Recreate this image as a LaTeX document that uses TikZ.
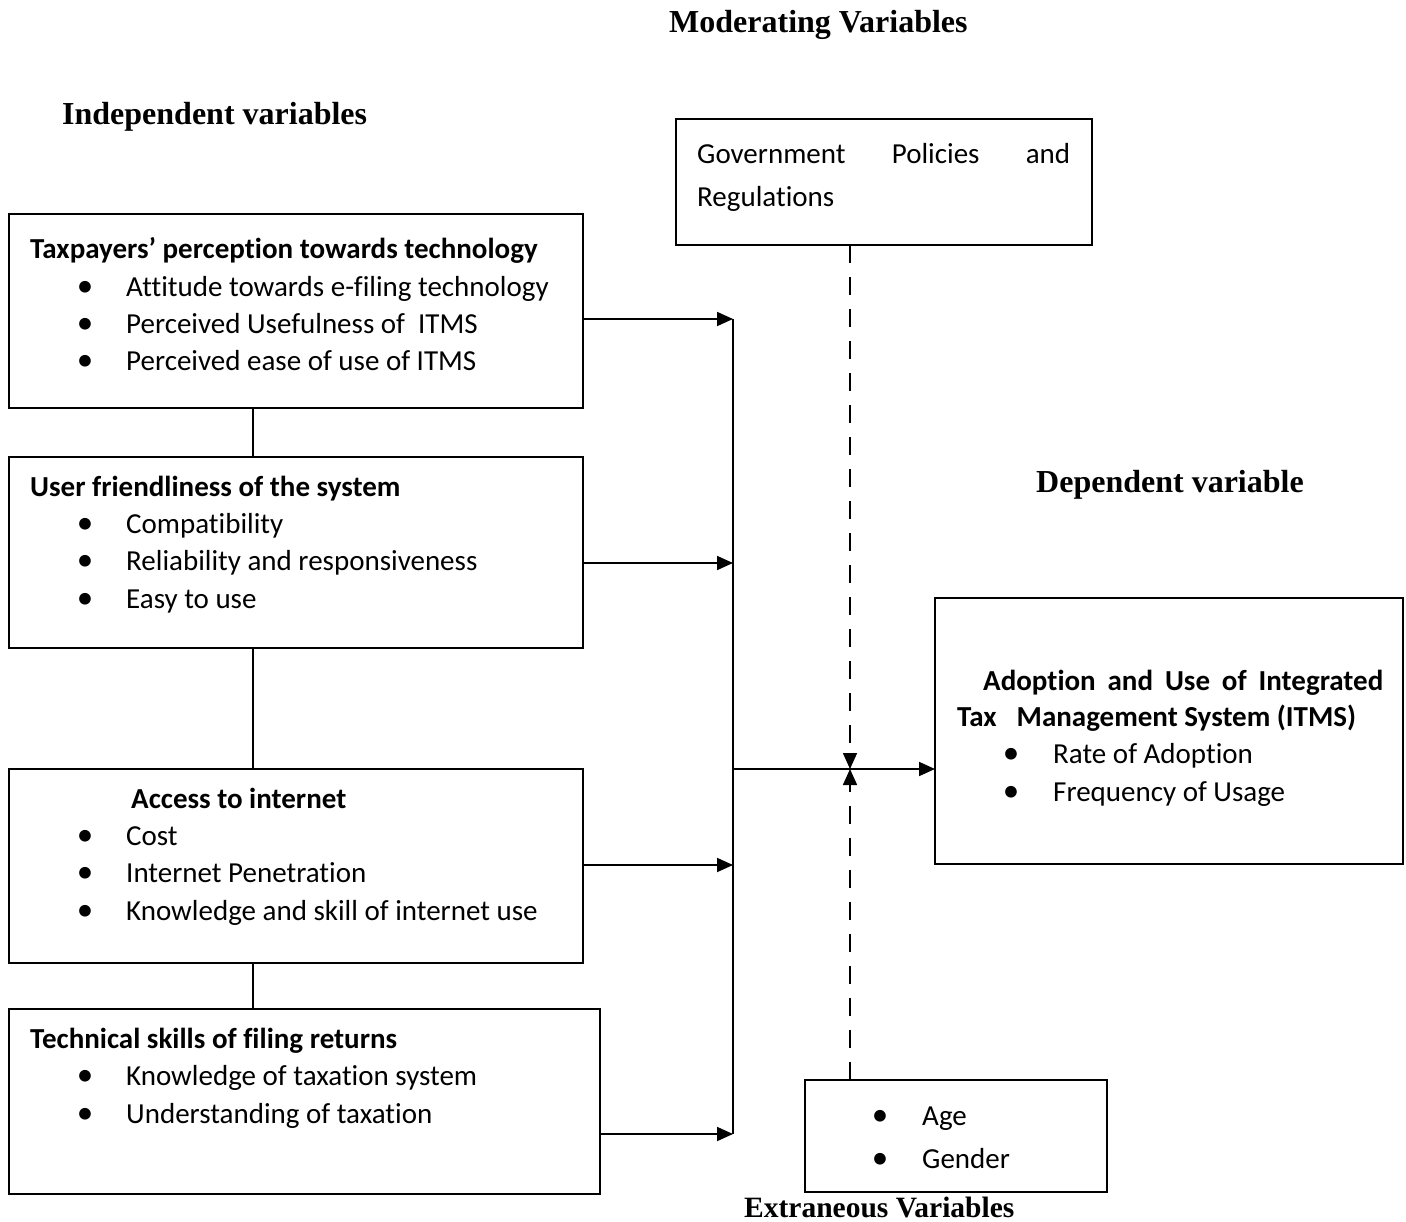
\documentclass[tikz,border=0pt]{standalone}
\usepackage{fontspec}
\setmainfont{Carlito}[Ligatures={NoCommon}]
\newfontfamily\headfont{Liberation Serif}
\usetikzlibrary{arrows.meta}
\tikzset{
  box/.style={draw, line width=1.8pt, inner sep=0pt, outer sep=0pt, anchor=north west},
  txt/.style={anchor=base west, inner sep=0pt, font=\fontsize{29}{35}\selectfont},
  btxt/.style={anchor=base west, inner sep=0pt, font=\fontsize{29}{35}\selectfont\bfseries},
  bul/.style={anchor=base, inner sep=0pt, font=\fontsize{33}{35}\selectfont},
  ttl/.style={anchor=base west, inner sep=0pt, font=\headfont\bfseries\fontsize{32}{38}\selectfont},
  conn/.style={line width=1.8pt},
  arr/.style={line width=1.8pt, -{Triangle[length=16pt,width=14pt]}},
  darr/.style={line width=1.6pt, dash pattern=on 18pt off 14pt, -{Triangle[length=16pt,width=14pt]}}
}
\begin{document}
\begin{tikzpicture}[x=1pt,y=-1pt]
\useasboundingbox[fill=white] (0,0) rectangle (1406,1222);

% titles
\node[ttl] (tmod) at (669,33) {Moderating Variables};
\node[ttl] (tind) at (62,125) {Independent variables};
\node[ttl] (tdep) at (1036,493) {Dependent variable};
\node[ttl, font=\headfont\bfseries\fontsize{29.5}{34}\selectfont] (text) at (744,1217) {Extraneous Variables};

% boxes
\node[box, minimum width=574pt, minimum height=194pt] (b1) at (9,214) {};
\node[box, minimum width=574pt, minimum height=191pt] (b2) at (9,457) {};
\node[box, minimum width=574pt, minimum height=194pt] (b3) at (9,769) {};
\node[box, minimum width=591pt, minimum height=185pt] (b4) at (9,1009) {};
\node[box, minimum width=416pt, minimum height=126pt] (mod) at (676,119) {};
\node[box, minimum width=468pt, minimum height=266pt] (dep) at (935,598) {};
\node[box, minimum width=302pt, minimum height=112pt] (ext) at (805,1080) {};

% box 1
\node[btxt] (h1) at (30,259) {Taxpayers’ perception towards technology};
\node[bul] (d1a) at (85,297) {•}; \node[txt] (t1a) at (126,297) {Attitude towards e-filing technology};
\node[bul] (d1b) at (85,334) {•}; \node[txt] (t1b) at (126,334) {Perceived Usefulness of\ \ ITMS};
\node[bul] (d1c) at (85,371) {•}; \node[txt] (t1c) at (126,371) {Perceived ease of use of ITMS};

% box 2
\node[btxt] (h2) at (30,496) {User friendliness of the system};
\node[bul] (d2a) at (85,533) {•}; \node[txt] (t2a) at (126,533) {Compatibility};
\node[bul] (d2b) at (85,570) {•}; \node[txt] (t2b) at (126,570) {Reliability and responsiveness};
\node[bul] (d2c) at (85,608) {•}; \node[txt] (t2c) at (126,608) {Easy to use};

% box 3
\node[btxt] (h3) at (131,808) {Access to internet};
\node[bul] (d3a) at (85,845) {•}; \node[txt] (t3a) at (126,845) {Cost};
\node[bul] (d3b) at (85,882) {•}; \node[txt] (t3b) at (126,882) {Internet Penetration};
\node[bul] (d3c) at (85,920) {•}; \node[txt] (t3c) at (126,920) {Knowledge and skill of internet use};

% box 4
\node[btxt] (h4) at (30,1048) {Technical skills of filing returns};
\node[bul] (d4a) at (85,1085) {•}; \node[txt] (t4a) at (126,1085) {Knowledge of taxation system};
\node[bul] (d4b) at (85,1123) {•}; \node[txt] (t4b) at (126,1123) {Understanding of taxation};

% moderating
\node[txt] (m1) at (697,164) {\makebox[373pt][s]{Government\hfill Policies\hfill and}};
\node[txt] (m2) at (697,207) {Regulations};

% dependent
\node[btxt] (dh1) at (983,690) {\makebox[400pt][s]{Adoption\hfill and\hfill Use\hfill of\hfill Integrated}};
\node[btxt] (dh2) at (957,726) {Tax\hspace{20pt}Management System (ITMS)};
\node[bul] (dda) at (1011,763) {•}; \node[txt] (dta) at (1053,763) {Rate of Adoption};
\node[bul] (ddb) at (1011,801) {•}; \node[txt] (dtb) at (1053,801) {Frequency of Usage};

% extraneous
\node[bul] (eda) at (880,1125) {•}; \node[txt] (eta) at (922,1125) {Age};
\node[bul] (edb) at (880,1168) {•}; \node[txt] (etb) at (922,1168) {Gender};

% coordinates
\coordinate (cx) at (253,0);
\coordinate (j1) at (733,319);
\coordinate (j2) at (733,563);
\coordinate (j3) at (733,865);
\coordinate (j4) at (733,1134);
\coordinate (jm) at (733,769);
\coordinate (xm) at (850,769);

% connectors between boxes
\draw[conn] (b1.south -| cx) -- (b2.north -| cx);
\draw[conn] (b2.south -| cx) -- (b3.north -| cx);
\draw[conn] (b3.south -| cx) -- (b4.north -| cx);

% arrows to bus
\draw[arr] (j1 -| b1.east) -- (j1);
\draw[arr] (j2 -| b2.east) -- (j2);
\draw[arr] (j3 -| b3.east) -- (j3);
\draw[arr] (j4 -| b4.east) -- (j4);
\draw[conn] (j1) -- (j4);
\draw[arr] (jm) -- (jm -| dep.west);

% dashed moderators
\draw[darr] (mod.south -| xm) -- (xm);
\draw[darr] (ext.north -| xm) -- (xm);
\end{tikzpicture}
\end{document}
